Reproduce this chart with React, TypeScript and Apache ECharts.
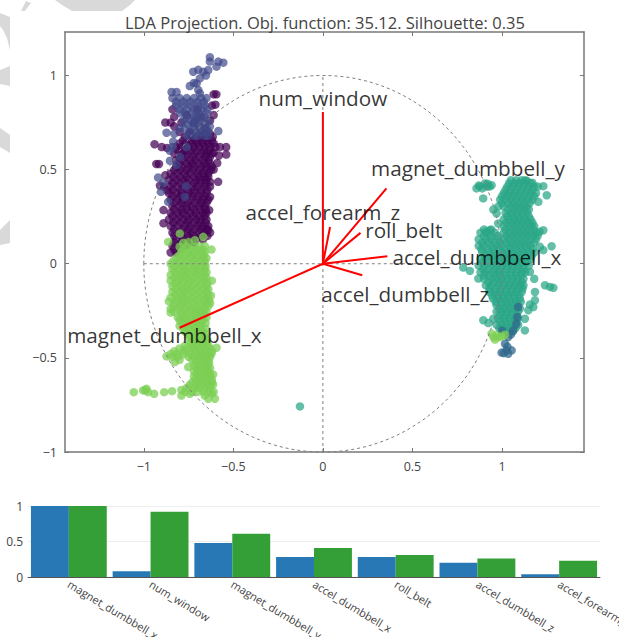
import React, { useEffect, useRef } from "react";
import * as echarts from "echarts";

const TITLE = "LDA Projection. Obj. function: 35.12. Silhouette: 0.35";
const FEATURE_LABELS = ["magnet_dumbbell_x", "num_window", "magnet_dumbbell_y", "accel_dumbbell_x", "roll_belt", "accel_dumbbell_z", "accel_forearm_z"];
const BLUE_VALUES = [1, 0.08, 0.48, 0.28, 0.28, 0.2, 0.04];
const GREEN_VALUES = [1, 0.92, 0.61, 0.41, 0.31, 0.26, 0.23];
const BOTTOM_TICKS = [-1, -0.5, 0, 0.5, 1];
const LEFT_TICKS = [-1, -0.5, 0, 0.5, 1];
const BAR_TICKS = [0, 0.5, 1];

// loading vectors: [name, end x, end y, label x, label y]
const VECTORS: [string, number, number, number, number][] = [
  ["num_window", 0, 0.806, 0, 0.88],
  ["magnet_dumbbell_y", 0.355, 0.4, 0.81, 0.508],
  ["accel_forearm_z", 0.04, 0.195, 0, 0.274],
  ["roll_belt", 0.21, 0.164, 0.452, 0.178],
  ["accel_dumbbell_x", 0.36, 0.04, 0.86, 0.035],
  ["accel_dumbbell_z", 0.22, -0.061, 0.46, -0.162],
  ["magnet_dumbbell_x", -0.8, -0.34, -0.885, -0.38],
];

// rows: [y, xs]
const PURPLE_ROWS: [number, number[]][] = [
  [0.69, [-0.74, -0.7, -0.66, -0.63]],
  [0.655, [-0.78, -0.74, -0.71, -0.68, -0.65, -0.62]],
  [0.62, [-0.82, -0.79, -0.75, -0.72, -0.69, -0.66, -0.63]],
  [0.585, [-0.83, -0.79, -0.76, -0.72, -0.68, -0.65, -0.62]],
  [0.55, [-0.82, -0.78, -0.74, -0.71, -0.67, -0.64]],
  [0.515, [-0.82, -0.79, -0.75, -0.72, -0.68, -0.65, -0.62]],
  [0.48, [-0.85, -0.81, -0.77, -0.74, -0.7, -0.67, -0.64]],
  [0.445, [-0.86, -0.82, -0.78, -0.75, -0.71, -0.68, -0.65]],
  [0.41, [-0.85, -0.81, -0.77, -0.73, -0.7, -0.66, -0.63]],
  [0.375, [-0.86, -0.82, -0.79, -0.75, -0.72, -0.68, -0.65]],
  [0.34, [-0.85, -0.81, -0.78, -0.74, -0.7, -0.67, -0.64]],
  [0.305, [-0.84, -0.8, -0.76, -0.73, -0.69, -0.66]],
  [0.27, [-0.85, -0.81, -0.78, -0.74, -0.71, -0.67, -0.65]],
  [0.235, [-0.86, -0.82, -0.78, -0.75, -0.71, -0.68, -0.65]],
  [0.2, [-0.85, -0.81, -0.77, -0.74, -0.7, -0.67, -0.64]],
  [0.165, [-0.84, -0.8, -0.76, -0.73, -0.69, -0.66, -0.63]],
  [0.13, [-0.82, -0.78, -0.74, -0.71, -0.67]],
  [0.095, [-0.84, -0.8, -0.76]],
  [0.06, [-0.85, -0.82]],
];
const PURPLE_FILL: [number, number[]][] = [
  [0.674, [-0.77, -0.725, -0.68, -0.645, -0.615]],
  [0.639, [-0.8, -0.765, -0.73, -0.7, -0.67, -0.64, -0.61]],
  [0.601, [-0.81, -0.775, -0.74, -0.705, -0.665, -0.635]],
  [0.568, [-0.8, -0.765, -0.725, -0.69, -0.655, -0.63]],
  [0.533, [-0.8, -0.76, -0.73, -0.695, -0.66, -0.63]],
  [0.498, [-0.83, -0.795, -0.76, -0.725, -0.69, -0.655, -0.625]],
  [0.462, [-0.835, -0.795, -0.76, -0.72, -0.69, -0.66, -0.64]],
  [0.428, [-0.84, -0.8, -0.76, -0.72, -0.685, -0.655]],
  [0.393, [-0.835, -0.79, -0.755, -0.715, -0.68, -0.645]],
  [0.358, [-0.84, -0.8, -0.765, -0.73, -0.695, -0.66]],
  [0.323, [-0.83, -0.79, -0.755, -0.715, -0.68, -0.65]],
  [0.288, [-0.83, -0.79, -0.76, -0.72, -0.685, -0.655]],
  [0.253, [-0.84, -0.8, -0.76, -0.725, -0.69, -0.66]],
  [0.218, [-0.835, -0.795, -0.755, -0.72, -0.685, -0.655]],
  [0.183, [-0.83, -0.785, -0.75, -0.715, -0.68, -0.65]],
  [0.148, [-0.83, -0.79, -0.75, -0.72, -0.68, -0.645]],
  [0.112, [-0.83, -0.79, -0.75, -0.72]],
  [0.078, [-0.83, -0.8]],
];
const PURPLE_EXTRA = [
  [-0.88, 0.75], [-0.84, 0.82], [-0.83, 0.78], [-0.61, 0.9], [-0.595, 0.9], [-0.62, 0.84], [-0.6, 0.845],
  [-0.61, 0.79], [-0.63, 0.76], [-0.85, 0.75], [-0.83, 0.73], [-0.8, 0.7], [-0.79, 0.75], [-0.94, 0.635], [-0.9, 0.62], [-0.87, 0.615],
  [-0.93, 0.53], [-0.915, 0.53], [-0.54, 0.62], [-0.575, 0.62], [-0.54, 0.58], [-0.58, 0.575],
  [-0.59, 0.535], [-0.61, 0.5], [-0.585, 0.435], [-0.63, 0.435], [-0.91, 0.415], [-0.89, 0.41],
  [-0.89, 0.285], [-0.89, 0.215], [-0.63, 0.355], [-0.635, 0.285], [-0.64, 0.18], [-0.88, 0.47], [-0.87, 0.39], [-0.61, 0.59], [-0.6, 0.62],
  [-0.76, 0.79], [-0.72, 0.75], [-0.7, 0.82], [-0.66, 0.72], [-0.74, 0.7], [-0.68, 0.78],
];

const SLATE_ROWS: [number, number[]][] = [
  [0.88, [-0.84, -0.8, -0.76, -0.72, -0.68, -0.65]],
  [0.86, [-0.82, -0.78, -0.74, -0.7, -0.665]],
  [0.84, [-0.82, -0.78, -0.74, -0.7, -0.66]],
  [0.82, [-0.8, -0.76, -0.72, -0.68, -0.645]],
  [0.8, [-0.8, -0.77, -0.73, -0.69, -0.65]],
  [0.78, [-0.76, -0.72, -0.7, -0.66]],
  [0.76, [-0.78, -0.74, -0.71, -0.68, -0.64]],
  [0.74, [-0.755, -0.725, -0.695, -0.66]],
  [0.72, [-0.8, -0.77, -0.72, -0.69, -0.65]],
  [0.7, [-0.745, -0.705, -0.675, -0.64]],
  [0.68, [-0.76, -0.72, -0.7, -0.66, -0.64]],
];
const SLATE_EXTRA = [
  [-0.631, 1.097], [-0.631, 1.074], [-0.584, 1.074], [-0.556, 1.068], [-0.594, 1.047], [-0.64, 1.029], [-0.668, 1.02],
  [-0.696, 1.03], [-0.724, 1.02], [-0.653, 1.0], [-0.687, 0.985], [-0.705, 0.958], [-0.743, 0.944], [-0.696, 0.923], [-0.687, 0.905],
  [-0.72, 0.96], [-0.845, 0.912], [-0.817, 0.912], [-0.873, 0.696], [-0.584, 0.705], [-0.631, 0.728], [-0.836, 0.648], [-0.854, 0.6],
  [-0.761, 0.62], [-0.798, 0.568], [-0.854, 0.547], [-0.817, 0.524], [-0.92, 0.458], [-0.891, 0.43], [-0.904, 0.382],
  [-0.864, 0.329], [-0.765, 0.412], [-0.77, 0.355], [-0.83, 0.69], [-0.84, 0.62],
];

const TEAL_ROWS: [number, number[]][] = [
  [0.444, [1.05, 1.08, 1.11, 1.13]],
  [0.41, [1.03, 1.06, 1.09, 1.12, 1.15, 1.18]],
  [0.375, [1.01, 1.04, 1.07, 1.1, 1.13, 1.16, 1.19]],
  [0.34, [0.99, 1.02, 1.05, 1.08, 1.11, 1.14, 1.17]],
  [0.305, [0.98, 1.01, 1.05, 1.08, 1.11, 1.14]],
  [0.27, [1.02, 1.05, 1.08, 1.11, 1.14]],
  [0.235, [1.01, 1.04, 1.07, 1.1, 1.13, 1.16]],
  [0.2, [1.01, 1.04, 1.07, 1.1, 1.13, 1.16, 1.18]],
  [0.165, [0.88, 0.92, 0.96, 1.01, 1.04, 1.07, 1.1, 1.13, 1.16, 1.19]],
  [0.13, [0.87, 0.91, 0.94, 0.98, 1.01, 1.04, 1.07, 1.1, 1.13, 1.16, 1.19]],
  [0.095, [0.87, 0.9, 0.94, 0.97, 1.0, 1.04, 1.07, 1.1, 1.13, 1.16]],
  [0.06, [0.89, 0.93, 0.96, 1.0, 1.03, 1.06, 1.09, 1.12, 1.15, 1.18]],
  [0.025, [0.88, 0.91, 0.95, 0.98, 1.01, 1.04, 1.07, 1.1, 1.13, 1.16]],
  [-0.01, [0.87, 0.9, 0.94, 0.97, 1.0, 1.03, 1.06, 1.09, 1.12, 1.15]],
  [-0.045, [0.88, 0.91, 0.95, 0.98, 1.01, 1.05, 1.08, 1.11, 1.13]],
  [-0.08, [0.9, 0.94, 0.97, 1.0, 1.03, 1.06, 1.09, 1.12]],
  [-0.115, [0.91, 0.94, 0.98, 1.01, 1.04, 1.07, 1.1, 1.12]],
  [-0.15, [0.93, 0.96, 0.99, 1.02, 1.05, 1.08, 1.11]],
  [-0.185, [0.95, 0.98, 1.01, 1.04, 1.07, 1.1]],
  [-0.22, [0.97, 1.0, 1.03, 1.06, 1.09]],
  [-0.255, [0.97, 1.0, 1.03, 1.06, 1.09]],
  [-0.29, [0.98, 1.01, 1.04, 1.07, 1.09]],
  [-0.325, [0.97, 1.0, 1.03, 1.06, 1.09]],
  [-0.36, [1.0, 1.03, 1.06]],
];
const TEAL_FILL: [number, number[]][] = [
  [0.428, [1.04, 1.07, 1.095, 1.125, 1.16]],
  [0.393, [1.02, 1.05, 1.08, 1.11, 1.14, 1.17]],
  [0.358, [1.0, 1.03, 1.06, 1.09, 1.12, 1.15, 1.18]],
  [0.322, [1.0, 1.035, 1.065, 1.095, 1.125, 1.155]],
  [0.288, [1.035, 1.065, 1.095, 1.125, 1.15]],
  [0.252, [1.03, 1.06, 1.09, 1.12, 1.15]],
  [0.218, [1.025, 1.055, 1.085, 1.115, 1.145, 1.17]],
  [0.182, [0.9, 0.94, 1.02, 1.055, 1.085, 1.115, 1.145, 1.175]],
  [0.148, [0.9, 0.94, 0.975, 1.025, 1.055, 1.085, 1.115, 1.145, 1.175]],
  [0.112, [0.89, 0.925, 0.96, 0.99, 1.025, 1.055, 1.085, 1.115, 1.145, 1.18]],
  [0.078, [0.885, 0.92, 0.955, 0.985, 1.02, 1.05, 1.08, 1.11, 1.14, 1.17]],
  [0.042, [0.905, 0.94, 0.975, 1.01, 1.045, 1.075, 1.105, 1.135, 1.165]],
  [0.008, [0.89, 0.925, 0.96, 0.99, 1.02, 1.05, 1.08, 1.11, 1.14]],
  [-0.028, [0.895, 0.925, 0.96, 0.99, 1.025, 1.055, 1.09, 1.12]],
  [-0.062, [0.9, 0.93, 0.96, 0.99, 1.02, 1.05, 1.08, 1.11]],
  [-0.098, [0.925, 0.955, 0.985, 1.015, 1.05, 1.08, 1.11]],
  [-0.132, [0.93, 0.965, 0.995, 1.03, 1.06, 1.09, 1.115]],
  [-0.168, [0.945, 0.975, 1.005, 1.035, 1.065, 1.095]],
  [-0.202, [0.965, 0.995, 1.02, 1.05, 1.08, 1.105]],
  [-0.238, [0.985, 1.015, 1.045, 1.075, 1.1]],
  [-0.272, [0.99, 1.02, 1.05, 1.08]],
  [-0.308, [0.99, 1.02, 1.05, 1.08]],
  [-0.342, [0.985, 1.015, 1.045, 1.075]],
];
const TEAL_EXTRA = [
  [0.858, 0.4], [0.877, 0.412], [0.905, 0.426], [0.942, 0.417], [0.895, 0.347], [0.952, 0.288], [0.97, 0.267],
  [0.979, 0.214], [0.933, 0.178], [0.91, 0.17], [1.203, 0.329], [1.231, 0.412], [1.25, 0.364], [1.231, 0.178],
  [1.277, 0.093], [1.212, 0.09], [1.231, 0.072], [0.784, -0.02], [0.821, -0.038], [0.868, -0.079], [1.24, -0.114],
  [1.268, -0.123], [1.287, -0.128], [1.184, -0.15], [1.184, -0.194], [1.156, -0.216], [1.147, -0.247], [1.175, -0.23],
  [0.896, -0.3], [0.924, -0.315], [0.952, -0.292], [1.128, -0.292], [1.128, -0.354], [1.156, -0.043], [1.2, 0.41],
  [1.14, 0.44], [1.17, 0.43], [0.93, 0.41], [0.89, 0.4], [1.18, -0.08], [0.87, 0.415], [0.915, 0.41], [0.92, 0.425], [1.21, 0.17], [1.2, 0.15],
];
const TEAL_OUTLIER = [[-0.128, -0.758]];

const STEEL_POINTS = [
  [1.09, -0.23], [1.086, -0.283], [1.063, -0.354], [1.035, -0.389], [1.017, -0.425], [1.026, -0.46], [0.998, -0.472],
  [1.035, -0.478], [1.054, -0.46], [1.0, -0.354], [1.08, -0.32], [1.05, -0.375], [1.01, -0.475], [1.03, -0.44],
];
const LIME_SMALL = [[0.952, -0.389], [0.97, -0.38], [1.0, -0.386], [1.017, -0.377], [0.942, -0.371], [0.961, -0.403], [0.985, -0.39]];

const LIME_ROWS: [number, number[]][] = [
  [0.09, [-0.8, -0.76, -0.72, -0.69]],
  [0.06, [-0.79, -0.75, -0.72, -0.68, -0.66]],
  [0.03, [-0.82, -0.78, -0.74, -0.71, -0.67, -0.65]],
  [0.0, [-0.85, -0.81, -0.77, -0.73, -0.7, -0.66]],
  [-0.03, [-0.84, -0.8, -0.77, -0.73, -0.7, -0.66]],
  [-0.06, [-0.85, -0.81, -0.77, -0.74, -0.7, -0.66]],
  [-0.09, [-0.85, -0.81, -0.78, -0.74, -0.7, -0.66]],
  [-0.12, [-0.84, -0.8, -0.76, -0.73, -0.69, -0.65]],
  [-0.15, [-0.84, -0.8, -0.77, -0.73, -0.69, -0.65]],
  [-0.18, [-0.85, -0.81, -0.77, -0.73, -0.69, -0.65]],
  [-0.21, [-0.83, -0.79, -0.76, -0.72, -0.68, -0.65]],
  [-0.24, [-0.85, -0.81, -0.77, -0.73, -0.7, -0.66]],
  [-0.27, [-0.79, -0.76, -0.72, -0.69, -0.66]],
  [-0.3, [-0.8, -0.77, -0.73, -0.7, -0.67]],
  [-0.33, [-0.8, -0.76, -0.72, -0.69]],
  [-0.36, [-0.77, -0.73, -0.7, -0.67]],
  [-0.39, [-0.75, -0.72, -0.69, -0.66]],
  [-0.42, [-0.74, -0.71, -0.68, -0.65]],
  [-0.45, [-0.8, -0.76, -0.72, -0.69, -0.66, -0.63]],
  [-0.48, [-0.85, -0.82, -0.78, -0.74, -0.7, -0.67, -0.64]],
  [-0.51, [-0.8, -0.73, -0.7, -0.67, -0.64]],
  [-0.54, [-0.72, -0.69, -0.66, -0.64]],
  [-0.57, [-0.72, -0.69, -0.66, -0.64]],
  [-0.6, [-0.72, -0.69, -0.66, -0.63]],
  [-0.63, [-0.73, -0.7, -0.67, -0.64, -0.62]],
  [-0.66, [-0.76, -0.72, -0.69, -0.66, -0.63]],
];
const LIME_FILL: [number, number[]][] = [
  [0.075, [-0.78, -0.74, -0.7, -0.67]],
  [0.045, [-0.8, -0.765, -0.73, -0.695, -0.665]],
  [0.015, [-0.835, -0.8, -0.76, -0.725, -0.69, -0.66]],
  [-0.015, [-0.83, -0.79, -0.75, -0.715, -0.68, -0.655]],
  [-0.045, [-0.825, -0.785, -0.755, -0.715, -0.685, -0.65]],
  [-0.075, [-0.83, -0.79, -0.755, -0.72, -0.68, -0.65]],
  [-0.105, [-0.825, -0.785, -0.75, -0.715, -0.675, -0.645]],
  [-0.135, [-0.82, -0.785, -0.75, -0.71, -0.67, -0.64]],
  [-0.165, [-0.825, -0.785, -0.75, -0.71, -0.67, -0.64]],
  [-0.195, [-0.815, -0.78, -0.745, -0.705, -0.665, -0.635]],
  [-0.225, [-0.835, -0.795, -0.75, -0.71, -0.675, -0.64]],
  [-0.255, [-0.83, -0.785, -0.745, -0.71, -0.68, -0.65]],
  [-0.285, [-0.81, -0.775, -0.74, -0.705, -0.675, -0.65]],
  [-0.315, [-0.785, -0.75, -0.715, -0.68, -0.655]],
  [-0.345, [-0.78, -0.745, -0.71, -0.68, -0.655]],
  [-0.375, [-0.75, -0.71, -0.68, -0.655]],
  [-0.405, [-0.73, -0.7, -0.67, -0.645]],
  [-0.435, [-0.77, -0.73, -0.7, -0.67, -0.64]],
  [-0.465, [-0.83, -0.78, -0.74, -0.71, -0.68, -0.65, -0.62]],
  [-0.495, [-0.84, -0.81, -0.75, -0.72, -0.685, -0.655, -0.63]],
  [-0.525, [-0.71, -0.68, -0.655, -0.635]],
  [-0.555, [-0.705, -0.675, -0.65, -0.63]],
  [-0.585, [-0.705, -0.675, -0.65, -0.63]],
  [-0.615, [-0.71, -0.68, -0.65, -0.62]],
  [-0.645, [-0.745, -0.71, -0.68, -0.655, -0.63]],
  [-0.68, [-0.77, -0.73, -0.7, -0.665, -0.635, -0.61]],
];
const LIME_EXTRA = [
  [-0.799, 0.16], [-0.864, 0.116], [-0.78, 0.11], [-0.75, 0.115], [-0.715, 0.125], [-0.668, 0.143], [-0.622, 0.075], [-0.659, 0.093],
  [-1.056, -0.682], [-1.004, -0.673], [-0.985, -0.664], [-0.992, -0.672], [-0.976, -0.682], [-0.942, -0.691], [-0.886, -0.682],
  [-0.842, -0.677], [-0.79, -0.67], [-0.79, -0.7], [-0.743, -0.691], [-0.603, -0.717], [-0.64, -0.717], [-0.62, -0.69],
  [-0.66, -0.7], [-0.613, -0.641], [-0.613, -0.588], [-0.594, -0.446], [-0.622, -0.478], [-0.873, -0.492], [-0.827, -0.522],
  [-0.752, -0.549], [-0.62, -0.09], [-0.625, -0.17], [-0.63, -0.21], [-0.86, -0.2], [-0.85, -0.26],
];

const WATERMARKS: number[][][] = [
  [[55, 0], [62, 5], [72, 11], [122, 11], [130, 5], [135, 0]],
  [[26, 1], [31, 3], [25, 11], [21, 11]],
  [[0, 13], [10, 17], [10, 50], [7, 38], [3, 30], [0, 26]],
  [[0, 70], [10, 66], [10, 86], [0, 84]],
  [[0, 128], [10, 135], [10, 153], [0, 147]],
  [[0, 230], [10, 220], [10, 243], [0, 245]],
];

const expand = (rows: [number, number[]][]) => rows.flatMap(([y, xs]) => xs.map((x) => [x, y]));
const points = (name: string, data: number[][], color: string, opacity: number) => ({
  type: "scatter", name, data, symbolSize: 8.5, xAxisIndex: 0, yAxisIndex: 0, silent: true,
  itemStyle: { color, opacity },
});
const dashedLine = (data: number[][]) => ({
  type: "line", data, symbol: "none", xAxisIndex: 0, yAxisIndex: 0, silent: true, z: 5,
  lineStyle: { color: "#808080", width: 1, type: [3, 3] },
});

const boxAxis = (customValues: number[]) => ({
  axisLine: { show: true, onZero: false, lineStyle: { color: "#777", width: 1.5 } },
  axisTick: { show: true, inside: true, length: 4, customValues, lineStyle: { color: "#777" } },
  splitLine: { show: false },
});
const minusLabel = (v: number) => String(v).replace("-", "\u2212");

export default function App() {
  const ref = useRef<HTMLDivElement>(null);
  useEffect(() => {
    const chart = echarts.init(ref.current!, null, { renderer: "svg" });
    const axisLabel = (customValues: number[]) => ({
      show: true, customValues, formatter: minusLabel, color: "#444", fontSize: 12.5, fontFamily: "Open Sans", margin: 8,
    });
    const xRange = { min: -1.44, max: 1.458 };
    const yRange = { min: -1, max: 1.231 };
    chart.setOption({
      animation: false,
      backgroundColor: "#fff",
      title: {
        text: TITLE, left: 120, top: 9,
        textStyle: { color: "#444", fontSize: 16.5, fontWeight: "normal", fontFamily: "Open Sans" },
      },
      graphic: WATERMARKS.map((p) => ({ type: "polygon", shape: { points: p }, style: { fill: "#d9d9d9" }, silent: true })),
      grid: [
        { left: 65, right: 35, top: 32, height: 420, outerBoundsMode: "none" },
        { left: 28, right: 19, top: 506, height: 71, outerBoundsMode: "none" },
      ],
      xAxis: [
        { type: "value", gridIndex: 0, position: "bottom", ...xRange, ...boxAxis(BOTTOM_TICKS), axisLabel: axisLabel(BOTTOM_TICKS) },
        { type: "value", gridIndex: 0, position: "top", ...xRange, ...boxAxis(BOTTOM_TICKS), axisLabel: { show: false } },
        {
          type: "category", gridIndex: 1, data: FEATURE_LABELS,
          axisLine: { lineStyle: { color: "#555", width: 1 } }, axisTick: { show: false },
          axisLabel: { interval: 0, rotate: -31, color: "#444", fontSize: 11, fontFamily: "Open Sans", margin: 6 },
        },
      ],
      yAxis: [
        { type: "value", gridIndex: 0, position: "left", ...yRange, ...boxAxis(LEFT_TICKS), axisLabel: axisLabel(LEFT_TICKS) },
        { type: "value", gridIndex: 0, position: "right", ...yRange, ...boxAxis(LEFT_TICKS), axisLabel: { show: false } },
        {
          type: "value", gridIndex: 1, min: 0, max: 1, interval: 0.5,
          axisLine: { show: false }, axisTick: { show: false },
          splitLine: { lineStyle: { color: "#eee" } },
          axisLabel: { color: "#444", fontSize: 12, fontFamily: "Open Sans", margin: 5, customValues: BAR_TICKS },
        },
      ],
      series: [
        points("purple", [...expand(PURPLE_ROWS), ...expand(PURPLE_FILL), ...PURPLE_EXTRA], "#440154", 0.72),
        points("slate", [...expand(SLATE_ROWS), ...SLATE_EXTRA], "#3e4989", 0.7),
        points("teal", [...expand(TEAL_ROWS), ...expand(TEAL_FILL), ...TEAL_EXTRA, ...TEAL_OUTLIER], "#2aa686", 0.72),
        points("steel", STEEL_POINTS, "#31688e", 0.75),
        points("lime", [...expand(LIME_ROWS), ...expand(LIME_FILL), ...LIME_EXTRA, ...LIME_SMALL], "#7ccf54", 0.75),
        dashedLine([[-1, 0], [1, 0]]),
        dashedLine([[0, -1], [0, 1]]),
        {
          type: "custom", xAxisIndex: 0, yAxisIndex: 0, silent: true, z: 5, data: [[0, 0, 1]],
          renderItem: (_: any, api: any) => {
            const c = api.coord([api.value(0), api.value(1)]);
            const e = api.coord([api.value(2), api.value(2)]);
            return {
              type: "ellipse",
              shape: { cx: c[0], cy: c[1], rx: e[0] - c[0], ry: c[1] - e[1] },
              style: { fill: "none", stroke: "#808080", lineWidth: 1, lineDash: [3, 3] },
            };
          },
        },
        ...VECTORS.map(([name, x, y]) => ({
          type: "line", name, data: [[0, 0], [x, y]], symbol: "none", xAxisIndex: 0, yAxisIndex: 0, silent: true, z: 6,
          lineStyle: { color: "#ff0000", width: 2 },
        })),
        {
          type: "scatter", xAxisIndex: 0, yAxisIndex: 0, symbolSize: 0, silent: true, z: 7,
          data: VECTORS.map(([name, , , lx, ly]) => ({ name, value: [lx, ly] })),
          itemStyle: { color: "#000" },
          label: {
            show: true, position: "inside", formatter: "{b}", color: "#000", fontSize: 20.7, fontFamily: "Open Sans",
            textBorderWidth: 0,
          },
        },
        {
          type: "bar", xAxisIndex: 2, yAxisIndex: 2, data: BLUE_VALUES, barGap: 0, barCategoryGap: "7.2%", silent: true,
          itemStyle: { color: "#2878b5" },
        },
        {
          type: "bar", xAxisIndex: 2, yAxisIndex: 2, data: GREEN_VALUES, silent: true,
          itemStyle: { color: "#339f36" },
        },
      ],
    });
    return () => chart.dispose();
  }, []);
  return <div ref={ref} style={{ position: "fixed", left: 0, top: 0, width: 619, height: 637 }} />;
}
